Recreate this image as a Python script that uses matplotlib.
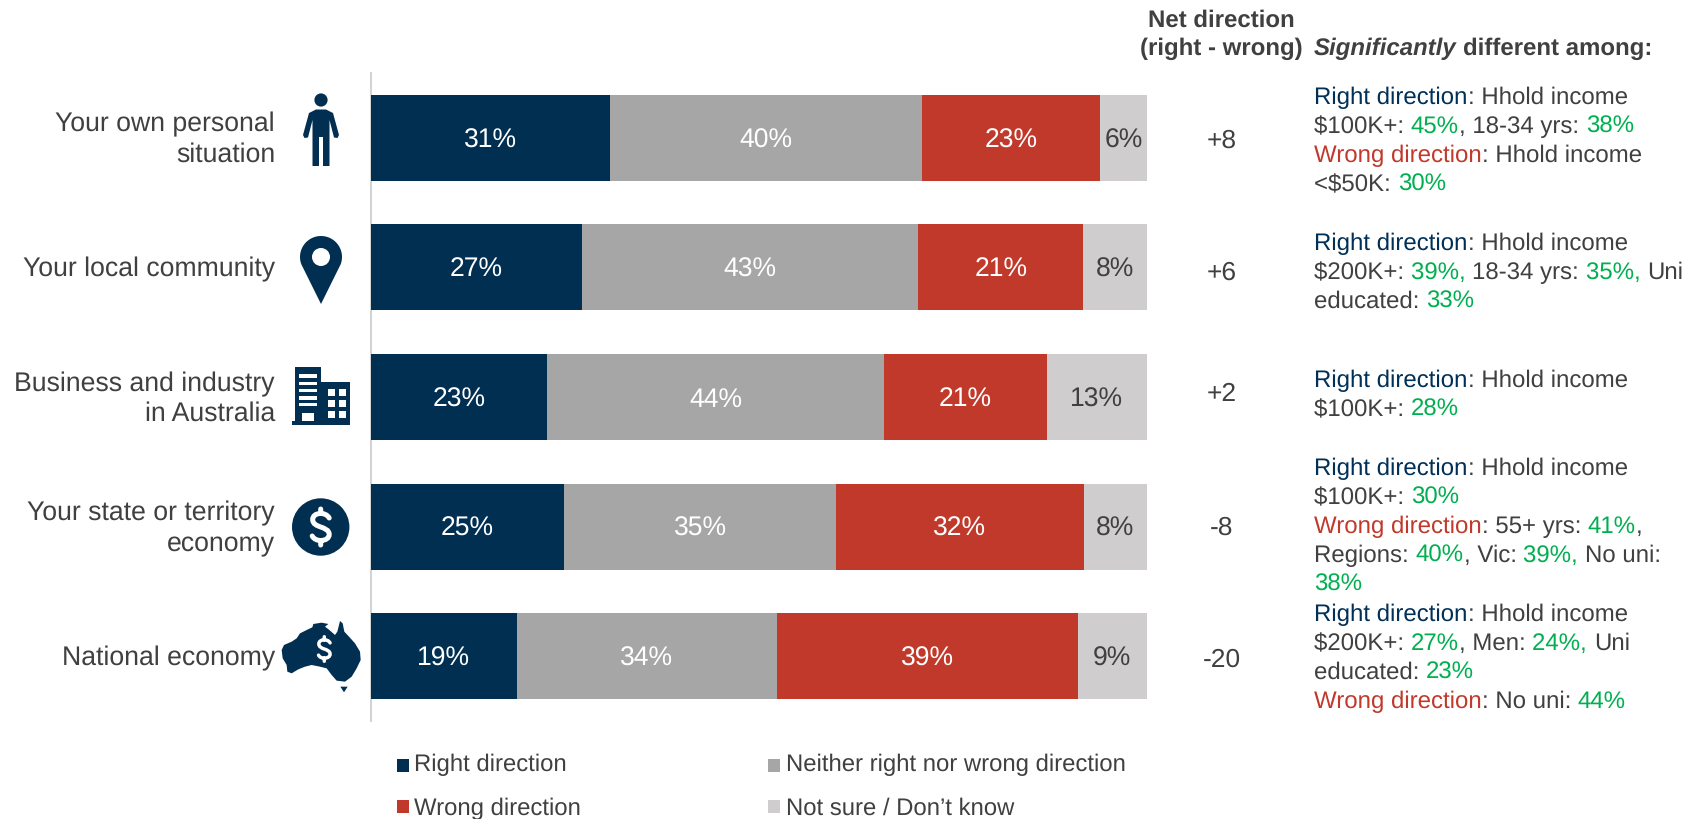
import numpy as np
import matplotlib
matplotlib.use("Agg")
import matplotlib.pyplot as plt
from matplotlib.patches import Circle, Polygon, Rectangle, PathPatch
from matplotlib.path import Path

plt.rcParams['font.family'] = ['Liberation Sans', 'DejaVu Sans']
plt.rcParams['text.hinting'] = 'no_hinting'

W, H = 1698, 819
NAVY, GREY, RED, LIGHT = '#012F52', '#A6A6A6', '#C0392B', '#CFCDCD'
TXT, GRN = '#404040', '#00B050'
TNAVY = '#003057'

categories = ['Your own personal\nsituation', 'Your local community',
              'Business and industry\nin Australia', 'Your state or territory\neconomy',
              'National economy']
series_names = ['Right direction', 'Neither right nor wrong direction',
                'Wrong direction', 'Not sure / Don\u2019t know']
right_dir = [30.9, 27.2, 22.7, 24.9, 18.8]
neither = [40.1, 43.4, 43.5, 35.1, 33.6]
wrong = [23.0, 21.2, 20.9, 31.9, 38.7]
not_sure = [6.0, 8.2, 12.9, 8.1, 8.9]
net_direction = ['+8', '+6', '+2', '-8', '-20']

N, G, R_, W_ = TNAVY, GRN, RED, TXT
notes = [
    [[('Right direction', N), (': Hhold income', W_)],
     [('$100K+: ', W_), ('45%', G), (', 18-34 yrs: ', W_), ('38%', G)],
     [('Wrong direction', R_), (': Hhold income', W_)],
     [('<$50K: ', W_), ('30%', G)]],
    [[('Right direction', N), (': Hhold income', W_)],
     [('$200K+: ', W_), ('39%, ', G), ('18-34 yrs: ', W_), ('35%, ', G), ('Uni', W_)],
     [('educated: ', W_), ('33%', G)]],
    [[('Right direction', N), (': Hhold income', W_)],
     [('$100K+: ', W_), ('28%', G)]],
    [[('Right direction', N), (': Hhold income', W_)],
     [('$100K+: ', W_), ('30%', G)],
     [('Wrong direction', R_), (': 55+ yrs: ', W_), ('41%', G), (',', W_)],
     [('Regions: ', W_), ('40%', G), (', Vic: ', W_), ('39%, ', G), ('No uni:', W_)],
     [('38%', G)]],
    [[('Right direction', N), (': Hhold income', W_)],
     [('$200K+: ', W_), ('27%', G), (', Men: ', W_), ('24%, ', G), ('Uni', W_)],
     [('educated: ', W_), ('23%', G)],
     [('Wrong direction', R_), (': No uni: ', W_), ('44%', G)]],
]

fig = plt.figure(figsize=(W / 100, H / 100), dpi=100, facecolor='white')

# overlay in pixel coordinates, for text and icons
ov = fig.add_axes([0, 0, 1, 1], zorder=3)
ov.set_xlim(0, W); ov.set_ylim(H, 0); ov.axis('off'); ov.patch.set_alpha(0)

# bars
L, Rt, T, B = 370.7, 1146.6, 73, 721
ax = fig.add_axes([L / W, 1 - B / H, (Rt - L) / W, (B - T) / H], zorder=2)
ypos = np.arange(len(categories))
left = np.zeros(len(categories))
series = [right_dir, neither, wrong, not_sure]
colors = [NAVY, GREY, RED, LIGHT]
lblcol = ['white', 'white', 'white', TXT]
for vals, c, tc in zip(series, colors, lblcol):
    bars = ax.barh(ypos, vals, left=left, height=0.664, color=c)
    anns = ax.bar_label(bars, labels=[f'{round(v)}%' for v in vals], label_type='center',
                        color=tc, fontsize=19.1)
    for a in anns:
        a.xyann = (0, -1.8)
    left += np.array(vals)
ax.set_xlim(0, 100)
ax.set_ylim(len(categories) - 0.5, -0.5)
ax.set_xticks([]); ax.set_yticks([])
for s in ('top', 'right', 'bottom'):
    ax.spines[s].set_visible(False)
ax.spines['left'].set_color('#D4D4D4')
ax.spines['left'].set_linewidth(1.5)
ax.spines['left'].set_zorder(0.5)
ax.patch.set_alpha(0)

# category labels (baselines per line)
cat_base = [[131, 162], [276], [391, 421], [520, 551], [665]]
for cat, ys in zip(categories, cat_base):
    for line, y in zip(cat.split('\n'), ys):
        ov.text(275, y, line, ha='right', va='baseline', fontsize=19.2, color=TXT)

# net direction
net_y = [138.8, 270.8, 391.3, 525, 657]
for v, y in zip(net_direction, net_y):
    ov.text(1222, y, v, ha='center', va='center_baseline', fontsize=19, color=TXT)

# headers
ov.text(1221.5, 27, 'Net direction', ha='center', va='baseline', fontsize=17.3,
        fontweight='bold', color=TXT)
ov.text(1221.5, 55, '(right - wrong)', ha='center', va='baseline', fontsize=17.3,
        fontweight='bold', color=TXT)

renderer = fig.canvas.get_renderer()
def runs(x, y, parts, **kw):
    for s, c in parts:
        t = ov.text(x, y, s, ha='left', va='baseline', color=c, fontsize=17.3, **kw)
        # advance width: measure with sentinels so trailing spaces are counted
        t.set_text(s + '|')
        w1 = t.get_window_extent(renderer).width
        t.set_text('|')
        w0 = t.get_window_extent(renderer).width
        t.set_text(s)
        x += w1 - w0

t1 = ov.text(1314.2, 55, 'Significantly', ha='left', va='baseline', fontsize=17.3,
             fontweight='bold', fontstyle='italic', color=TXT)
x1 = t1.get_window_extent(renderer).x1 + 6
ov.text(x1, 55, 'different among:', ha='left', va='baseline', fontsize=17.3,
        fontweight='bold', color=TXT)

note_base = [[104, 133, 162, 191], [250, 279, 308], [387, 416],
             [475, 504, 533, 562, 591], [621, 650, 679, 708]]
for block, ys in zip(notes, note_base):
    for parts, y in zip(block, ys):
        runs(1314.2, y, parts)

# legend
leg = [(397.5, 759, 414, 771), (768, 759, 786, 771), (397.5, 800, 414, 815), (768, 800, 786, 815)]
leg_order = [0, 1, 2, 3]
for i, (sx, sy, tx, by) in zip(leg_order, leg):
    ov.add_patch(Rectangle((sx, sy), 12, 12.5, color=colors[i], lw=0))
    ov.text(tx, by, series_names[i], ha='left', va='baseline', fontsize=17.2, color=TXT)

# icons (positions in pixels)
def person():
    ov.add_patch(Circle((321, 100), 6.6, color=NAVY, lw=0))
    pts = [(309, 113), (316, 109.5), (326, 109.5), (333, 113), (339, 135), (337.5, 138), (334, 137.5),
           (329.5, 120), (329.5, 166), (323, 166), (323, 137), (319, 137), (319, 166), (312.5, 166),
           (312.5, 120), (308, 137.5), (304.5, 138), (303, 135)]
    ov.add_patch(Polygon(pts, closed=True, color=NAVY, lw=0))

def pin():
    cx, cy, r = 321, 257, 21
    th = np.radians(np.linspace(200, -20, 60))
    pts = [(cx + r * np.cos(a), cy - r * np.sin(a)) for a in th]
    pts = pts + [(cx, 304)]
    ov.add_patch(Polygon(pts, closed=True, color=NAVY, lw=0))
    ov.add_patch(Circle((cx, 257), 9, color='white', lw=0))

def building():
    ov.add_patch(Rectangle((295.3, 367), 25.7, 54, color=NAVY, lw=0))
    ov.add_patch(Rectangle((321, 381.7), 28.7, 40, color=NAVY, lw=0))
    ov.add_patch(Rectangle((292, 420.7), 57.7, 4, color=NAVY, lw=0))
    for y in (374, 381.5, 388.5, 396, 402.5):
        ov.add_patch(Rectangle((299, y), 18.3, 3.8, color='white', lw=0))
    ov.add_patch(Rectangle((302.3, 413.3), 11.7, 7.7, color='white', lw=0))
    for wy in (389, 400, 410.7):
        for wx in (328.3, 339):
            ov.add_patch(Rectangle((wx, wy), 7, 7, color='white', lw=0))

def dollar_glyph(cx, cy, s, lw):
    # S curve and two ticks, drawn around the centre in pixels, scaled by s
    P = lambda dx, dy: (cx + s * dx, cy + s * dy)
    verts = [P(8.5, -9), P(6.5, -12.5), P(3, -13.5), P(0, -13.5),
             P(-5, -13.5), P(-8, -11), P(-8, -7.5),
             P(-8, -3), P(-4, -1.5), P(0, 0),
             P(4, 1.5), P(8.5, 3), P(8.5, 7.5),
             P(8.5, 11), P(5, 13.5), P(0, 13.5),
             P(-3.5, 13.5), P(-7, 12), P(-8.5, 9),
             P(0, -18), P(0, -13.5), P(0, 13.5), P(0, 18)]
    codes = [Path.MOVETO] + [Path.CURVE4] * 18 + [Path.MOVETO, Path.LINETO, Path.MOVETO, Path.LINETO]
    ov.add_patch(PathPatch(Path(verts, codes), fc='none', ec='white', lw=lw, capstyle='round'))

def dollar():
    ov.add_patch(Circle((320.7, 527), 28.7, color=NAVY, lw=0))
    dollar_glyph(320.7, 527, 1, 3.6)

def australia():
    crop = [(5, 120), (12, 105), (35, 95), (50, 85), (60, 70), (80, 60), (97, 52), (100, 42), (125, 38),
            (145, 42), (135, 50), (148, 60), (165, 75), (172, 65), (180, 33), (188, 40), (193, 65),
            (207, 80), (225, 100), (240, 125), (242, 150), (230, 175), (215, 200), (195, 215), (170, 212),
            (155, 195), (140, 175), (120, 170), (95, 165), (75, 170), (55, 178), (35, 190), (22, 185),
            (20, 165), (8, 145)]
    px = [(280 + a / 3, 610 + b / 3) for a, b in crop]
    ov.add_patch(Polygon(px, closed=True, color=NAVY, lw=0))
    tas = [(181, 230), (203, 230), (192, 247)]
    ov.add_patch(Polygon([(280 + a / 3, 610 + b / 3) for a, b in tas], closed=True, color=NAVY, lw=0))
    dollar_glyph(324.3, 649, 0.68, 2.5)

person(); pin(); building(); dollar(); australia()

fig.savefig('out.png', dpi=100, facecolor='white')
